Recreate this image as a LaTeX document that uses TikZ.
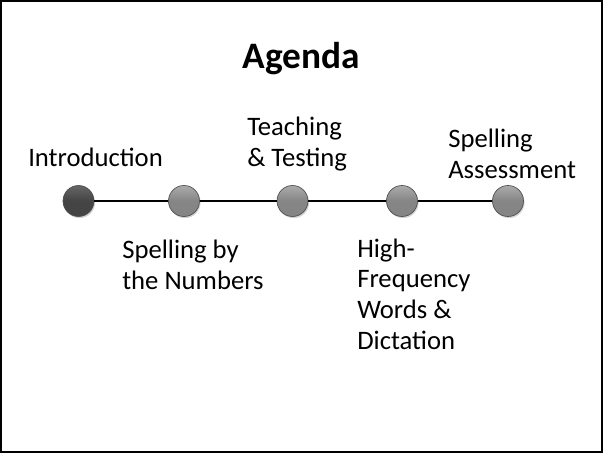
\documentclass[tikz,border=0pt]{standalone}
\usepackage{fontspec}
\setmainfont{Carlito}
\usepackage{tikz}
\usetikzlibrary{shapes,arrows,shadows,positioning}

\definecolor{stopfill}{HTML}{858585}
\definecolor{stoplight}{HTML}{ABABAB}
\definecolor{stopdark}{HTML}{444444}
\definecolor{stopdarklight}{HTML}{666666}
\definecolor{stopedge}{HTML}{4E4E4E}

\tikzstyle{stop} = [circle, draw=stopedge, line width=0.5pt, minimum size=23.25pt, inner sep=0pt,
    top color=stoplight, bottom color=stopfill, middle color=stopfill,
    drop shadow={opacity=0.35, shadow xshift=0.8pt, shadow yshift=-1.2pt}]
\tikzstyle{current} = [stop, top color=stopdarklight, bottom color=stopdark, middle color=stopdark]
\tikzstyle{topic} = [anchor=base west, inner sep=0pt, align=left,
    font=\fontsize{20}{23}\selectfont]
\tikzstyle{line} = [draw, line width=1.8pt]

\begin{document}
\begin{tikzpicture}[x=0.75pt, y=-0.75pt]
      \useasboundingbox (0,0) rectangle (603,453);
      \draw [line width=1.5pt] (1,1) rectangle (602,452);
      % Title
      \node [anchor=base, inner sep=0pt, font=\fontsize{28}{34}\selectfont\bfseries] (title) at (301,69) {Agenda};
      % Timeline stops
      \node [current] (intro-stop) at (78.5,201) {};
      \node [stop] (numbers-stop) at (184,201) {};
      \node [stop] (testing-stop) at (292.5,201) {};
      \node [stop] (words-stop) at (402,201) {};
      \node [stop] (assessment-stop) at (508,201) {};
      % Topic labels (base = last line)
      \node [topic] (intro) at (28,166) {Introduction};
      \node [topic] (numbers) at (122,289) {Spelling by\\the Numbers};
      \node [topic] (testing) at (247,166) {Teaching\\\& Testing};
      \node [topic] (words) at (357,349) {High-\\Frequency\\Words \&\\Dictation};
      \node [topic] (assessment) at (448,178) {Spelling\\Assessment};
      % Draw edges
      \path [line] (intro-stop) -- (numbers-stop);
      \path [line] (numbers-stop) -- (testing-stop);
      \path [line] (testing-stop) -- (words-stop);
      \path [line] (words-stop) -- (assessment-stop);
\end{tikzpicture}
\end{document}
